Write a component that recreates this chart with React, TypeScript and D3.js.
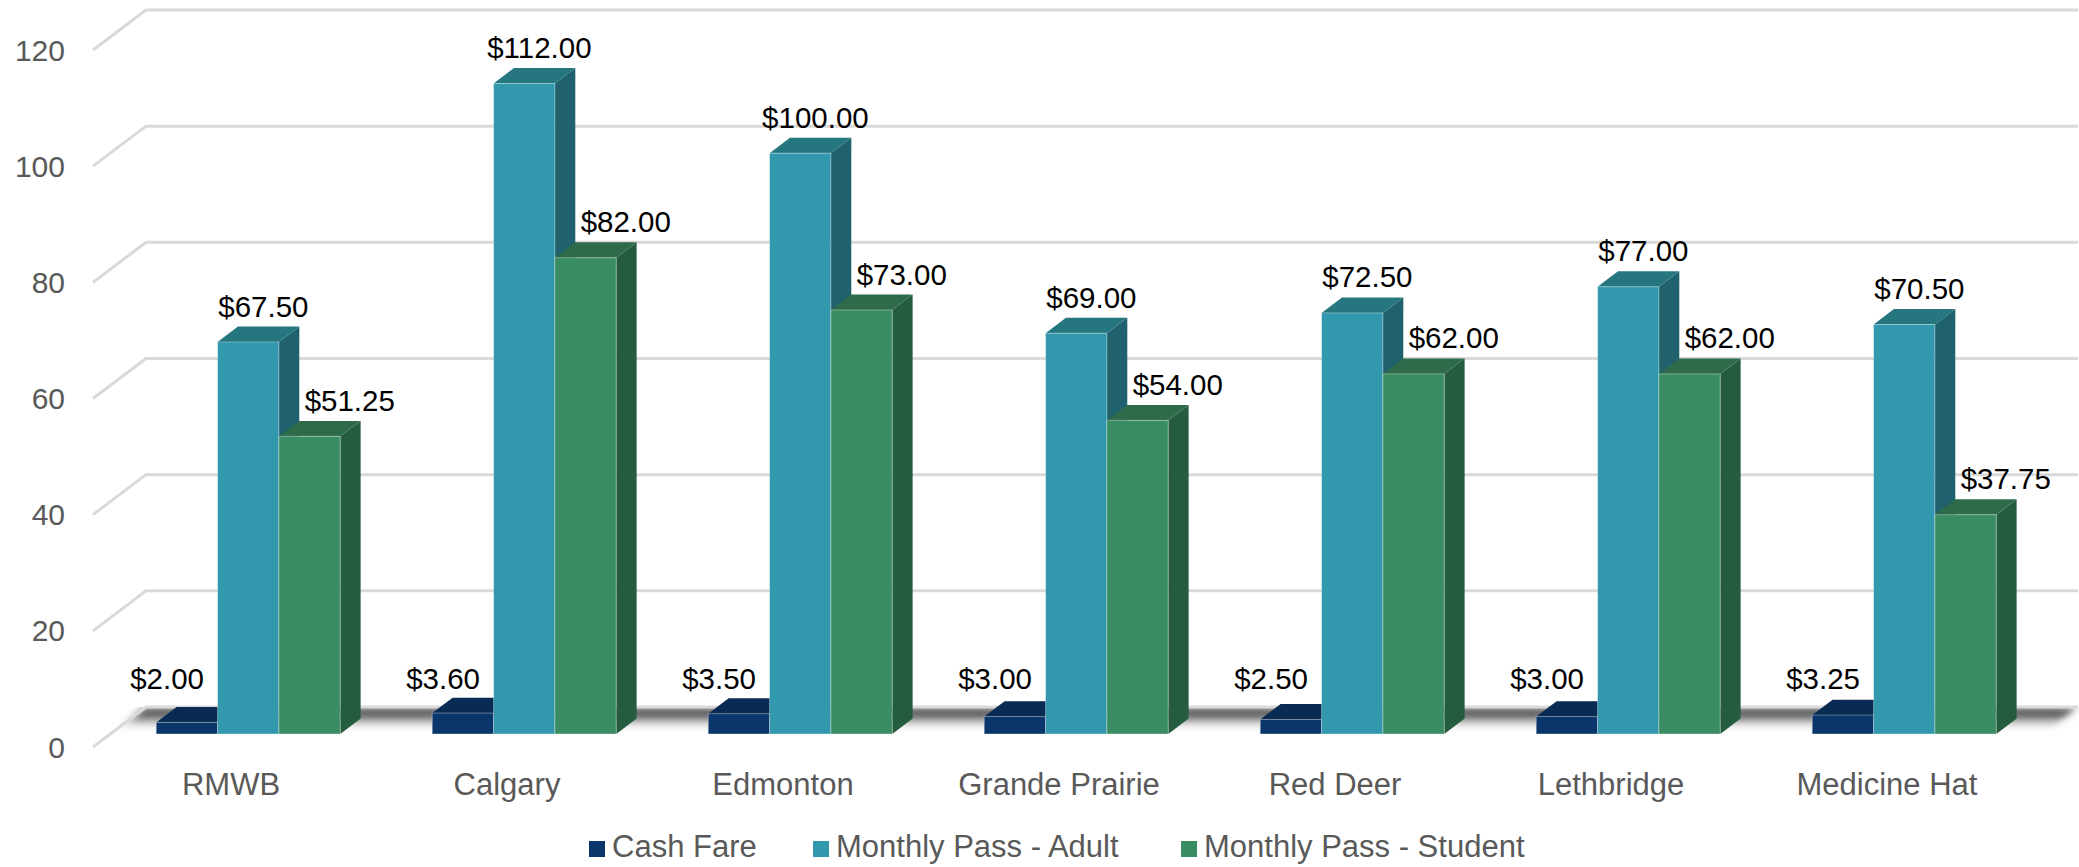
import React from 'react';
import * as d3 from 'd3';

const categories = ['RMWB', 'Calgary', 'Edmonton', 'Grande Prairie', 'Red Deer', 'Lethbridge', 'Medicine Hat'];
const seriesNames = ['Cash Fare', 'Monthly Pass - Adult', 'Monthly Pass - Student'];
const cashFare = [2.0, 3.6, 3.5, 3.0, 2.5, 3.0, 3.25];
const adultPass = [67.5, 112.0, 100.0, 69.0, 72.5, 77.0, 70.5];
const studentPass = [51.25, 82.0, 73.0, 54.0, 62.0, 62.0, 37.75];
const yTicks = [0, 20, 40, 60, 80, 100, 120];

const W = 2079;
const H = 867;
const FONT = '"Liberation Sans", Arial, sans-serif';

// colours per series: front, top, side
const palette = [
  { front: '#0a366c', top: '#092a52', side: '#08284c' },
  { front: '#3198ae', top: '#25767f', side: '#1f616d' },
  { front: '#3a8c62', top: '#2d6b4a', side: '#255b3f' },
];

// 3D depth vector of the whole floor
const DEPTH = { dx: 53, dy: -40 };
const BAR_D0 = 0.325;
const BAR_D1 = 0.71;

const App: React.FC = () => {
  const x = d3.scaleBand<string>().domain(categories).range([93, 2025]).padding(0);
  const sub = d3.scaleBand<string>()
    .domain(seriesNames)
    .range([0, x.bandwidth()])
    .paddingInner(0)
    .paddingOuter(0.75);
  const y = d3.scaleLinear().domain([0, 120]).range([747, 50]);
  const fmt = d3.format('$.2f');

  const proj = (px: number, py: number, d: number): [number, number] => [px + DEPTH.dx * d, py + DEPTH.dy * d];
  const pts = (arr: [number, number][]) => arr.map(p => p.join(',')).join(' ');

  const series = [cashFare, adultPass, studentPass];

  const bars: React.ReactNode[] = [];
  const labels: React.ReactNode[] = [];
  categories.forEach((cat, ci) => {
    seriesNames.forEach((s, si) => {
      const v = series[si][ci];
      const xl = (x(cat) || 0) + (sub(s) || 0);
      const xr = xl + sub.bandwidth();
      const y0 = y(0);
      const yv = y(v);
      const c = palette[si];
      const fbl = proj(xl, y0, BAR_D0);
      const fbr = proj(xr, y0, BAR_D0);
      const ftl = proj(xl, yv, BAR_D0);
      const ftr = proj(xr, yv, BAR_D0);
      const btl = proj(xl, yv, BAR_D1);
      const btr = proj(xr, yv, BAR_D1);
      const bbr = proj(xr, y0, BAR_D1);
      bars.push(
        <g key={`${cat}-${s}`}>
          <polygon points={pts([fbr, ftr, btr, bbr])} fill={c.side} />
          <polygon points={pts([ftl, ftr, btr, btl])} fill={c.top} />
          <polygon points={pts([fbl, fbr, ftr, ftl])} fill={c.front} stroke="rgba(255,255,255,0.35)" strokeWidth={1} />
        </g>
      );
      const cx = (ftl[0] + btr[0]) / 2;
      let lx = cx;
      let ly = btr[1] - 10;
      if (si === 0) {
        lx = cx - 30;
        ly = proj(xl, y(Math.max(v, 3.5)), BAR_D1)[1] - 9;
      } else if (si === 2) {
        lx = cx + 30;
      } else {
        lx = cx + 5;
      }
      labels.push(
        <text key={`l-${cat}-${s}`} x={lx} y={ly} textAnchor="middle" fontSize={29.5} fill="#000">
          {fmt(v)}
        </text>
      );
    });
  });

  const [flx, fly] = [93, y(0)];
  const frx = 2025;

  return (
    <div style={{ position: 'absolute', left: 0, top: 0, width: W, height: H, background: '#fff' }}>
      <svg width={W} height={H} style={{ display: 'block', fontFamily: FONT }}>
        <defs>
          <linearGradient id="floorShadow" x1="0" y1="0" x2="0" y2="1">
            <stop offset="0%" stopColor="#2e2e2e" stopOpacity={1} />
            <stop offset="40%" stopColor="#555555" stopOpacity={0.8} />
            <stop offset="100%" stopColor="#ffffff" stopOpacity={0} />
          </linearGradient>
          <filter id="blur" x="-5%" y="-50%" width="110%" height="200%">
            <feGaussianBlur stdDeviation="3.5" />
          </filter>
        </defs>

        {/* floor shadow */}
        <polygon
          points={pts([
            proj(flx, fly, 0.97),
            proj(frx, fly, 0.97),
            proj(frx, fly, 0.4),
            proj(flx, fly, 0.4),
          ])}
          fill="url(#floorShadow)"
          filter="url(#blur)"
        />
        <rect x={0} y={0} width={W} height={proj(flx, fly, 1)[1]} fill="#fff" />

        {/* gridlines on side and back walls */}
        {yTicks.map(t => {
          const front: [number, number] = [flx, y(t)];
          const back = proj(flx, y(t), 1);
          const backR = proj(frx, y(t), 1);
          return (
            <polyline
              key={`g-${t}`}
              points={pts([front, back, backR])}
              fill="none"
              stroke="#d9d9d9"
              strokeWidth={3}
            />
          );
        })}

        {/* y axis labels */}
        {yTicks.map(t => (
          <text key={`yt-${t}`} x={65} y={y(t)} dy="0.35em" textAnchor="end" fontSize={30} fill="#595959">
            {t}
          </text>
        ))}

        {bars}
        {labels}

        {/* category labels */}
        {categories.map(cat => (
          <text
            key={`c-${cat}`}
            x={(x(cat) || 0) + x.bandwidth() / 2}
            y={795}
            textAnchor="middle"
            fontSize={31}
            fill="#595959"
          >
            {cat}
          </text>
        ))}

        {/* legend */}
        {seriesNames.map((s, i) => {
          const lx = [589, 813, 1181][i];
          return (
            <g key={`lg-${s}`}>
              <rect x={lx} y={841} width={16} height={16} fill={palette[i].front} />
              <text x={lx + 23} y={857} fontSize={31} fill="#595959">
                {s}
              </text>
            </g>
          );
        })}
      </svg>
    </div>
  );
};

export default App;
